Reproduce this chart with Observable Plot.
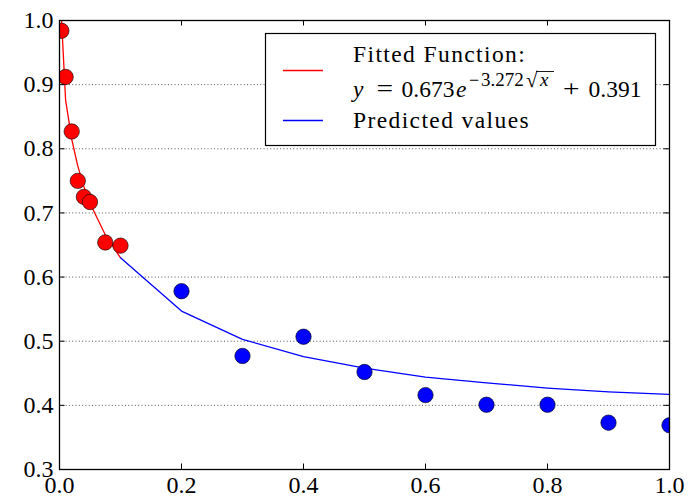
<!DOCTYPE html>
<html>
<head>
<meta charset="utf-8">
<script src="https://cdn.jsdelivr.net/npm/d3@7"></script>
<script src="https://cdn.jsdelivr.net/npm/@observablehq/plot@0.6"></script>
<style>
  html, body { margin: 0; padding: 0; background: white; }
  #chart { position: relative; width: 698px; height: 497px; }
</style>
</head>
<body>
<div id="chart"></div>
<script>
// ---- data ----
const xTicks = [0.0, 0.2, 0.4, 0.6, 0.8, 1.0];
const yTicks = [0.3, 0.4, 0.5, 0.6, 0.7, 0.8, 0.9, 1.0];

// observed (red) points
const redX = [0.003, 0.01, 0.02, 0.03, 0.04, 0.05, 0.075, 0.1];
const redY = [0.984, 0.912, 0.827, 0.750, 0.725, 0.717, 0.654, 0.649];

// held-out (blue) points
const blueX = [0.2, 0.3, 0.4, 0.5, 0.6, 0.7, 0.8, 0.9, 1.0];
const blueY = [0.578, 0.477, 0.507, 0.452, 0.416, 0.401, 0.401, 0.373, 0.369];

// fitted curve (red line)
const fitX = [0.0, 0.01, 0.02, 0.03, 0.04, 0.05, 0.075, 0.1];
const fitY = [1.064, 0.876, 0.815, 0.773, 0.741, 0.715, 0.666, 0.630];

// predicted values (blue line)
const predX = [0.1, 0.2, 0.3, 0.4, 0.5, 0.6, 0.7, 0.8, 0.9, 1.0];
const predY = [0.630, 0.547, 0.503, 0.476, 0.458, 0.444, 0.435, 0.427, 0.421, 0.417];

const legendFitLabel = "Fitted Function:";
const legendPredLabel = "Predicted values";

// ---- build tables ----
const redPts = redX.map((x, i) => ({x, y: redY[i]}));
const bluePts = blueX.map((x, i) => ({x, y: blueY[i]}));
const fitLine = fitX.map((x, i) => ({x, y: fitY[i]}));
const predLine = predX.map((x, i) => ({x, y: predY[i]}));
const gridY = yTicks.filter(v => v > 0.3 && v < 1.0);

const W = 698, H = 497;
const mL = 59, mR = 29, mT = 20, mB = 28;
const innerW = W - mL - mR, innerH = H - mT - mB;
const tickLen = 5.5;
const FONT = "'Liberation Serif', 'DejaVu Serif', serif";

const fmt = d3.format(".1f");

const svg = Plot.plot({
  width: W,
  height: H,
  marginLeft: mL,
  marginRight: mR,
  marginTop: mT,
  marginBottom: mB,
  style: {fontFamily: FONT, fontSize: "24px", background: "white", overflow: "visible"},
  x: {domain: [0, 1]},
  y: {domain: [0.3, 1.0]},
  marks: [
    Plot.ruleY(gridY, {y: d => d, stroke: "#555", strokeWidth: 1, strokeDasharray: "1,2.3"}),
    Plot.line(fitLine, {x: "x", y: "y", stroke: "red", strokeWidth: 1.3, clip: true}),
    Plot.line(predLine, {x: "x", y: "y", stroke: "blue", strokeWidth: 1.3, clip: true}),
    Plot.dot(redPts, {x: "x", y: "y", r: 7.7, fill: "red", stroke: "black", strokeWidth: 0.6, clip: true}),
    Plot.dot(bluePts, {x: "x", y: "y", r: 7.7, fill: "blue", stroke: "black", strokeWidth: 0.6, clip: true}),
    // inward ticks on all four sides
    Plot.tickX(xTicks, {x: d => d, insetTop: innerH - tickLen, stroke: "black", strokeWidth: 1}),
    Plot.tickX(xTicks, {x: d => d, insetBottom: innerH - tickLen, stroke: "black", strokeWidth: 1}),
    Plot.tickY(yTicks, {y: d => d, insetRight: innerW - tickLen, stroke: "black", strokeWidth: 1}),
    Plot.tickY(yTicks, {y: d => d, insetLeft: innerW - tickLen, stroke: "black", strokeWidth: 1}),
    Plot.frame({stroke: "black", strokeWidth: 1.3}),
    Plot.axisX({ticks: xTicks, tickSize: 0, tickPadding: 6, tickFormat: fmt, label: null}),
    Plot.axisY({ticks: yTicks, tickSize: 0, tickPadding: 6, tickFormat: fmt, label: null})
  ]
});

document.getElementById("chart").appendChild(svg);

// ---- legend ----
const g = d3.select(svg).append("g")
  .attr("font-family", FONT)
  .attr("text-anchor", "start")
  .attr("fill", "black");

g.append("rect")
  .attr("x", 265.5).attr("y", 33.5)
  .attr("width", 390).attr("height", 112)
  .attr("fill", "white").attr("stroke", "black").attr("stroke-width", 1.2);

g.append("line").attr("x1", 283).attr("x2", 323).attr("y1", 70.5).attr("y2", 70.5)
  .attr("stroke", "red").attr("stroke-width", 1.3);
g.append("line").attr("x1", 283).attr("x2", 323).attr("y1", 120.5).attr("y2", 120.5)
  .attr("stroke", "blue").attr("stroke-width", 1.3);

g.append("text").attr("x", 353).attr("y", 62)
  .attr("text-anchor", "start")
  .attr("font-size", 23.5).attr("letter-spacing", "1.4px")
  .text(legendFitLabel);
g.append("text").attr("x", 353).attr("y", 128)
  .attr("text-anchor", "start")
  .attr("font-size", 23.5).attr("letter-spacing", "1.4px")
  .text(legendPredLabel);

// math row: y = 0.673 e^{-3.272 sqrt(x)} + 0.391
const mathY = 96.5;
const pieces = [
  {t: "y", x: 353, italic: true, size: 23.5, y: mathY},
  {t: "=", x: 376.5, size: 23.5, y: mathY, sx: 1.25},
  {t: "0.673", x: 401.5, size: 23.5, y: mathY},
  {t: "e", x: 456, italic: true, size: 23.5, y: mathY},
  {t: "\u2212", x: 469, size: 18, y: mathY - 11},
  {t: "3.272", x: 481, size: 19, y: mathY - 11},
  {t: "\u221A", x: 526, size: 21, y: mathY - 10},
  {t: "x", x: 540, italic: true, size: 19, y: mathY - 11},
  {t: "+", x: 563, size: 23.5, y: mathY, sx: 1.25},
  {t: "0.391", x: 588.5, size: 23.5, y: mathY}
];
for (const p of pieces) {
  const t = g.append("text")
    .attr("x", p.x).attr("y", p.y)
    .attr("text-anchor", "start")
    .attr("font-size", p.size)
    .attr("font-style", p.italic ? "italic" : "normal")
    .text(p.t);
  if (p.sx) t.attr("transform", `translate(${p.x},0) scale(${p.sx},1) translate(${-p.x},0)`);
}
// vinculum of the square root
g.append("line").attr("x1", 536).attr("x2", 554).attr("y1", 71.5).attr("y2", 71.5)
  .attr("stroke", "black").attr("stroke-width", 0.9);
</script>
</body>
</html>
